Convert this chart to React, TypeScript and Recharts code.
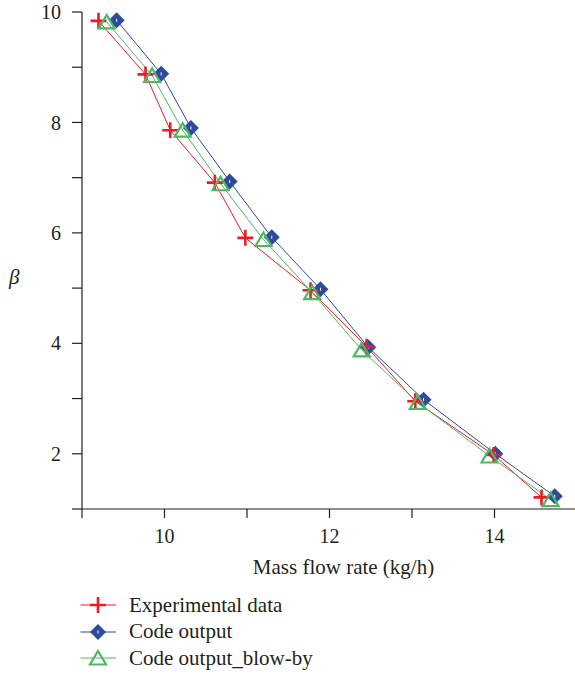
import { Line, LineChart, XAxis, YAxis } from "recharts";

const EXP_X = [9.2, 9.77, 10.07, 10.61, 10.98, 11.77, 12.45, 13.04, 13.99, 14.57];
const EXP_Y = [9.84, 8.87, 7.86, 6.91, 5.91, 4.96, 3.94, 2.95, 1.98, 1.21];

const CODE_X = [9.42, 9.96, 10.32, 10.79, 11.3, 11.89, 12.47, 13.14, 14.01, 14.73];
const CODE_Y = [9.85, 8.88, 7.9, 6.93, 5.92, 4.98, 3.93, 2.98, 2.0, 1.23];

const BLOW_X = [9.3, 9.85, 10.22, 10.68, 11.2, 11.79, 12.39, 13.07, 13.94, 14.68];
const BLOW_Y = [9.82, 8.85, 7.86, 6.89, 5.88, 4.92, 3.88, 2.93, 1.96, 1.17];

const X_TICKS = [9, 10, 11, 12, 13, 14, 15];
const Y_TICKS = [1, 2, 3, 4, 5, 6, 7, 8, 9, 10];

const RED = "#ed1c24";
const BLUE = "#2e4a9e";
const GREEN = "#4cb862";
const INK = "#231f20";
const FONT = "Liberation Serif";

const toRows = (xs: number[], ys: number[]) => xs.map((x, i) => ({ x, y: ys[i] }));

function PlusMark({ cx, cy, color = RED }: any) {
  return (
    <path
      d={`M${cx - 8},${cy}H${cx + 8}M${cx},${cy - 8}V${cy + 8}`}
      stroke={color}
      strokeWidth={2.6}
      fill="none"
    />
  );
}

function DiamondMark({ cx, cy }: any) {
  const r = 8;
  return (
    <g>
      <path d={`M${cx},${cy - r}L${cx + r},${cy}L${cx},${cy + r}L${cx - r},${cy}Z`} fill={BLUE} />
      <path d={`M${cx},${cy - 1.5}V${cy + 1.5}`} stroke="#fff" strokeWidth={1} />
    </g>
  );
}

function TriangleMark({ cx, cy }: any) {
  return (
    <path
      d={`M${cx},${cy - 7}L${cx + 8},${cy + 6.5}L${cx - 8},${cy + 6.5}Z`}
      fill="none"
      stroke={GREEN}
      strokeWidth={2.2}
    />
  );
}

const dotWith = (Mark: any) => (props: any) => {
  if (props.cx == null || props.cy == null) return <g key={props.index} />;
  return <Mark key={props.index} cx={props.cx} cy={props.cy} />;
};

const LEGEND = [
  { name: "Experimental data", color: RED, Mark: PlusMark },
  { name: "Code output", color: BLUE, Mark: DiamondMark },
  { name: "Code output_blow-by", color: GREEN, Mark: TriangleMark },
];

export default function App() {
  const tickStyle = { fill: INK, fontSize: 20, fontFamily: FONT };
  return (
    <div
      style={{
        position: "absolute",
        left: 0,
        top: 0,
        width: 575,
        height: 674,
        overflow: "hidden",
        background: "#fff",
        fontFamily: FONT,
      }}
    >
      <LineChart width={580} height={674} margin={{ top: 12, right: 3, left: 0, bottom: 0 }}>
        <XAxis
          type="number"
          dataKey="x"
          domain={[9, 15]}
          ticks={X_TICKS}
          allowDataOverflow
          tickFormatter={(v: number) => (v % 2 === 0 ? String(v) : "")}
          tick={tickStyle}
          tickSize={9}
          tickMargin={11}
          height={165}
          stroke={INK}
          strokeWidth={1.2}
          tickLine={{ stroke: INK, strokeWidth: 1.2 }}
          label={{
            value: "Mass flow rate (kg/h)",
            position: "insideTop",
            offset: 50,
            dx: 14,
            style: { fill: INK, fontSize: 21, fontFamily: FONT },
          }}
        />
        <YAxis
          type="number"
          dataKey="y"
          domain={[1, 10]}
          ticks={Y_TICKS}
          allowDataOverflow
          tickFormatter={(v: number) => (v % 2 === 0 ? String(v) : "")}
          tick={tickStyle}
          tickSize={10}
          tickMargin={11}
          width={82}
          stroke={INK}
          strokeWidth={1.2}
          tickLine={{ stroke: INK, strokeWidth: 1.2 }}
          label={{
            value: "β",
            position: "insideLeft",
            offset: 9,
            dy: 16,
            style: { fill: INK, fontSize: 21, fontFamily: FONT, fontStyle: "italic" },
          }}
        />
        <Line
          data={toRows(CODE_X, CODE_Y)}
          dataKey="y"
          name="Code output"
          stroke={BLUE}
          strokeWidth={1}
          dot={dotWith(DiamondMark)}
          isAnimationActive={false}
        />
        <Line
          data={toRows(EXP_X, EXP_Y)}
          dataKey="y"
          name="Experimental data"
          stroke={RED}
          strokeWidth={1}
          dot={dotWith(PlusMark)}
          isAnimationActive={false}
        />
        <Line
          data={toRows(BLOW_X, BLOW_Y)}
          dataKey="y"
          name="Code output_blow-by"
          stroke={GREEN}
          strokeWidth={1}
          dot={dotWith(TriangleMark)}
          isAnimationActive={false}
        />
      </LineChart>
      <div style={{ position: "absolute", left: 80, top: 592 }}>
        {LEGEND.map(({ name, color, Mark }) => (
          <div key={name} style={{ display: "flex", alignItems: "center", height: 26.5 }}>
            <svg width={36} height={26} style={{ flex: "none" }}>
              <line x1={0.5} y1={13} x2={36} y2={13} stroke={color} strokeWidth={1.2} />
              <Mark cx={18} cy={13} color={color} />
            </svg>
            <span style={{ marginLeft: 13, fontSize: 21, color: INK, whiteSpace: "nowrap" }}>{name}</span>
          </div>
        ))}
      </div>
    </div>
  );
}
